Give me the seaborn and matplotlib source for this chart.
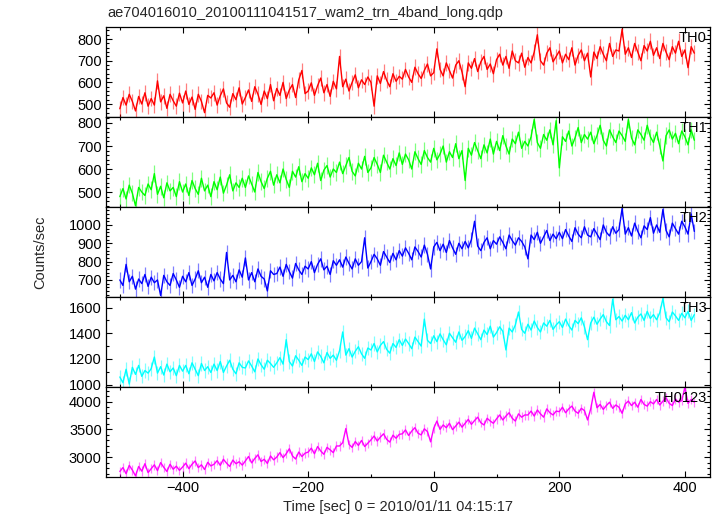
import numpy as np
import pandas as pd
import matplotlib
matplotlib.use("Agg")
import matplotlib.pyplot as plt
from matplotlib.ticker import MultipleLocator, FixedLocator
import seaborn as sns

TITLE = "ae704016010_20100111041517_wam2_trn_4band_long.qdp"
XLABEL = "Time [sec] 0 = 2010/01/11 04:15:17"
YLABEL = "Counts/sec"
T0, DT = -500, 5

bands = ["TH0", "TH1", "TH2", "TH3", "TH0123"]
colors = ["#ff0000", "#00ff00", "#0000ff", "#00ffff", "#ff00ff"]
errors = [36, 36, 42, 55, 85]

th0 = [478, 530, 495, 545, 512, 468, 535, 500, 552, 490,
       525, 495, 607, 510, 538, 480, 545, 515, 490, 550,
       505, 560, 498, 532, 475, 545, 512, 460, 540, 528,
       552, 495, 538, 570, 505, 485, 548, 520, 575, 500,
       530, 565, 512, 580, 545, 498, 560, 525, 590, 515,
       572, 540, 600, 525, 565, 590, 530, 612, 655, 548,
       560, 598, 540, 585, 620, 552, 590, 535, 605, 570,
       720, 580, 615, 560, 600, 635, 575, 612, 590, 625,
       600, 490, 630, 595, 650, 610, 580, 640, 605, 628,
       615, 660, 625, 600, 670, 640, 618, 655, 685, 630,
       645, 755, 660, 630, 690, 655, 620, 680, 700, 648,
       580, 690, 665, 710, 650, 695, 720, 660, 685, 640,
       705, 730, 680, 720, 665, 745, 700, 690, 735, 670,
       715, 690, 740, 820, 700, 680, 735, 760, 695, 720,
       745, 690, 730, 705, 760, 680, 725, 750, 700, 735,
       625, 740, 710, 765, 730, 700, 780, 720, 750, 745,
       845, 730, 760, 715, 780, 740, 700, 770, 745, 790,
       725, 760, 710, 780, 740, 705, 765, 735, 790, 720,
       750, 668, 765, 735]

th1 = [480, 515, 470, 530, 495, 440, 520, 500, 485, 535,
       510, 580, 490, 525, 475, 540, 505, 520, 480, 545,
       500, 535, 485, 550, 515, 490, 560, 505, 530, 480,
       545, 510, 565, 495, 530, 575, 505, 540, 520, 560,
       520, 570, 535, 500, 585, 545, 515, 560, 590, 530,
       575, 540, 600, 555, 520, 590, 565, 610, 545, 580,
       560, 605, 575, 625, 550, 595, 615, 565, 600, 585,
       630, 580, 615, 650, 590, 570, 625, 600, 655, 585,
       605, 650, 620, 585, 660, 630, 600, 645, 615, 670,
       620, 665, 640, 600, 675, 645, 620, 680, 650, 630,
       690, 640, 665, 700, 630, 675, 650, 710, 645, 680,
       550, 690, 660, 715, 680, 645, 705, 670, 730, 665,
       720, 680, 745, 700, 665, 730, 710, 760, 690, 720,
       700, 740, 815, 715, 690, 750, 725, 770, 705, 810,
       605, 740, 720, 765, 700, 735, 780, 715, 750, 730,
       760, 710, 745, 790, 725, 700, 770, 740, 715, 765,
       745, 720, 815, 735, 705, 770, 750, 725, 790, 740,
       715, 760, 700, 635, 745, 770, 730, 755, 710, 765,
       740, 705, 770, 725]

th2 = [700, 670, 785, 690, 720, 650, 705, 680, 730, 665,
       715, 685, 700, 615, 725, 690, 670, 735, 700, 660,
       720, 690, 740, 670, 705, 750, 685, 715, 660, 730,
       695, 740, 705, 680, 850, 700, 725, 690, 755, 715,
       820, 700, 740, 690, 760, 720, 705, 640, 750, 730,
       735, 770, 720, 785, 745, 710, 790, 755, 730, 775,
       760, 800, 740, 785, 815, 755, 775, 730, 805, 780,
       810, 770, 825, 790, 760, 815, 780, 800, 930, 765,
       800, 840, 815, 780, 855, 825, 795, 845, 810, 860,
       830, 875, 845, 810, 880, 855, 825, 890, 840, 760,
       880, 905, 860, 895, 850, 915, 875, 840, 900, 870,
       910, 875, 920, 1020, 885, 860, 905, 930, 870, 915,
       895, 935, 905, 870, 945, 915, 890, 930, 910, 880,
       815, 945, 920, 960, 900, 935, 970, 915, 950, 925,
       960, 925, 975, 940, 910, 985, 950, 930, 990, 945,
       935, 980, 950, 920, 1000, 960, 940, 990, 955, 975,
       1090, 950, 985, 940, 1010, 965, 930, 995, 975, 1040,
       955, 1000, 960, 1085, 970, 935, 1010, 980, 950, 1020,
       990, 950, 1060, 965]

th3 = [1060, 1015, 1120, 1005, 1135, 1080, 1150, 1065, 1110, 1090,
       1125, 1215, 1090, 1140, 1075, 1160, 1100, 1130, 1070, 1150,
       1105, 1150, 1085, 1170, 1120, 1070, 1165, 1110, 1140, 1095,
       1160, 1110, 1180, 1095, 1145, 1190, 1120, 1085, 1170, 1135,
       1130, 1185, 1145, 1100, 1200, 1155, 1120, 1190, 1165, 1135,
       1170, 1210, 1160, 1350, 1180, 1145, 1225, 1190, 1150, 1215,
       1195, 1240, 1180, 1255, 1220, 1170, 1250, 1205, 1230, 1190,
       1265, 1410, 1230, 1280, 1215, 1260, 1295, 1240, 1205, 1285,
       1270, 1320, 1255, 1305, 1335, 1275, 1245, 1320, 1290, 1350,
       1305, 1355, 1320, 1280, 1370, 1335, 1300, 1510, 1345, 1320,
       1380, 1335, 1395, 1350, 1310, 1400, 1365, 1330, 1410, 1345,
       1375, 1420, 1360, 1440, 1395, 1350, 1425, 1390, 1455, 1370,
       1405, 1450, 1415, 1270, 1440, 1410, 1465, 1565, 1430, 1400,
       1470, 1425, 1495, 1445, 1410, 1480, 1455, 1500, 1430, 1465,
       1490, 1445, 1510, 1460, 1425, 1500, 1475, 1520, 1450, 1350,
       1480, 1525, 1470, 1510, 1545, 1490, 1460, 1665, 1505, 1530,
       1495, 1540, 1505, 1560, 1480, 1525, 1550, 1500, 1570, 1515,
       1545, 1505, 1560, 1670, 1520, 1490, 1565, 1535, 1500, 1555,
       1520, 1570, 1500, 1545]

th0123 = [2740, 2810, 2700, 2850, 2765, 2660, 2830, 2745, 2880, 2720,
          2790, 2860, 2755, 2900, 2815, 2740, 2870, 2780, 2835, 2760,
          2820, 2890, 2790, 2870, 2930, 2810, 2860, 2775, 2905, 2840,
          2870, 2935, 2850, 2960, 2890, 2830, 2945, 2880, 2915, 2855,
          2930, 3010, 2895, 2975, 3040, 2920, 2960, 2885, 3020, 2950,
          3000, 3080, 2990, 3060, 3150, 3020, 2965, 3090, 3010, 3070,
          3090, 3160, 3060, 3190, 3110, 3050, 3175, 3130, 3080, 3200,
          3200, 3260, 3515, 3230, 3175, 3280, 3210, 3300, 3190, 3250,
          3310, 3380, 3290, 3360, 3420, 3320, 3270, 3395, 3340, 3410,
          3420, 3490, 3390, 3470, 3530, 3430, 3400, 3510, 3460, 3275,
          3520, 3650, 3500, 3580, 3530, 3610, 3495, 3560, 3630, 3540,
          3610, 3680, 3590, 3660, 3720, 3620, 3580, 3700, 3650, 3610,
          3690, 3760, 3670, 3740, 3800, 3700, 3650, 3780, 3720, 3760,
          3760, 3830, 3740, 3850, 3780, 3720, 3870, 3800, 3760, 3830,
          3820, 3900, 3800, 3870, 3920, 3830, 3790, 3880, 3840, 3670,
          3870, 4170, 3890, 3950, 3860, 3930, 3990, 3880, 3940, 3900,
          3790, 3960, 4010, 3930, 3990, 3900, 4040, 3950, 3920, 4000,
          3960, 4040, 3940, 4010, 4070, 3970, 3930, 4050, 3990, 4020,
          4260, 3970, 4040, 3990]

series = [th0, th1, th2, th3, th0123]
ylims = [(440, 856), (435, 826), (607, 1098), (982, 1682), (2640, 4265)]
yticks = [[500, 600, 700, 800], [500, 600, 700, 800], [700, 800, 900, 1000],
          [1000, 1200, 1400, 1600], [3000, 3500, 4000]]
yminor = [20, 20, 20, 100, 100]
XLIM = (-522, 440)

sns.set_theme(style="ticks")
plt.rcParams["font.family"] = ["Liberation Sans", "DejaVu Sans"]

fig = plt.figure(figsize=(7.17, 5.16), dpi=100)
gs = fig.add_gridspec(5, 1, left=106/717, right=710/717, top=1-27/516,
                      bottom=1-477/516, hspace=0)
axes = [fig.add_subplot(gs[i]) for i in range(5)]

for i, ax in enumerate(axes):
    vals = np.array(series[i], dtype=float)
    t = T0 + DT * np.arange(len(vals))
    df = pd.DataFrame({"time": t, "rate": vals})
    ax.vlines(df["time"], df["rate"] - errors[i], df["rate"] + errors[i],
              color=colors[i], alpha=0.5, linewidth=0.9, zorder=1)
    sns.lineplot(data=df, x="time", y="rate", ax=ax, color=colors[i],
                 linewidth=1.0, zorder=2, errorbar=None)
    ax.set_xlim(*XLIM)
    ax.set_ylim(*ylims[i])
    ax.yaxis.set_major_locator(FixedLocator(yticks[i]))
    ax.yaxis.set_minor_locator(MultipleLocator(yminor[i]))
    ax.xaxis.set_major_locator(MultipleLocator(200))
    ax.xaxis.set_minor_locator(MultipleLocator(100))
    ax.tick_params(which="both", direction="in", top=True, right=True,
                   labelsize=10.5, colors="black", width=0.8)
    ax.tick_params(which="major", length=4.5, pad=3)
    ax.tick_params(which="minor", length=2.2)
    ax.set_xlabel("")
    ax.set_ylabel("")
    for s in ax.spines.values():
        s.set_linewidth(0.9)
        s.set_color("black")
    ax.text(0.995, 0.88, bands[i], transform=ax.transAxes, ha="right",
            va="center", fontsize=10.5, color="black")
    if i < 4:
        ax.tick_params(labelbottom=False)

fig.text(107/717, 1-13/516, TITLE, ha="left", va="center", fontsize=10.5)
fig.text(398/717, 1-507/516, XLABEL, ha="center", va="center", fontsize=10.5)
fig.text(40/717, 1-252/516, YLABEL, ha="center", va="center", rotation=90,
         fontsize=10.5)

fig.savefig("out.png", dpi=100)
